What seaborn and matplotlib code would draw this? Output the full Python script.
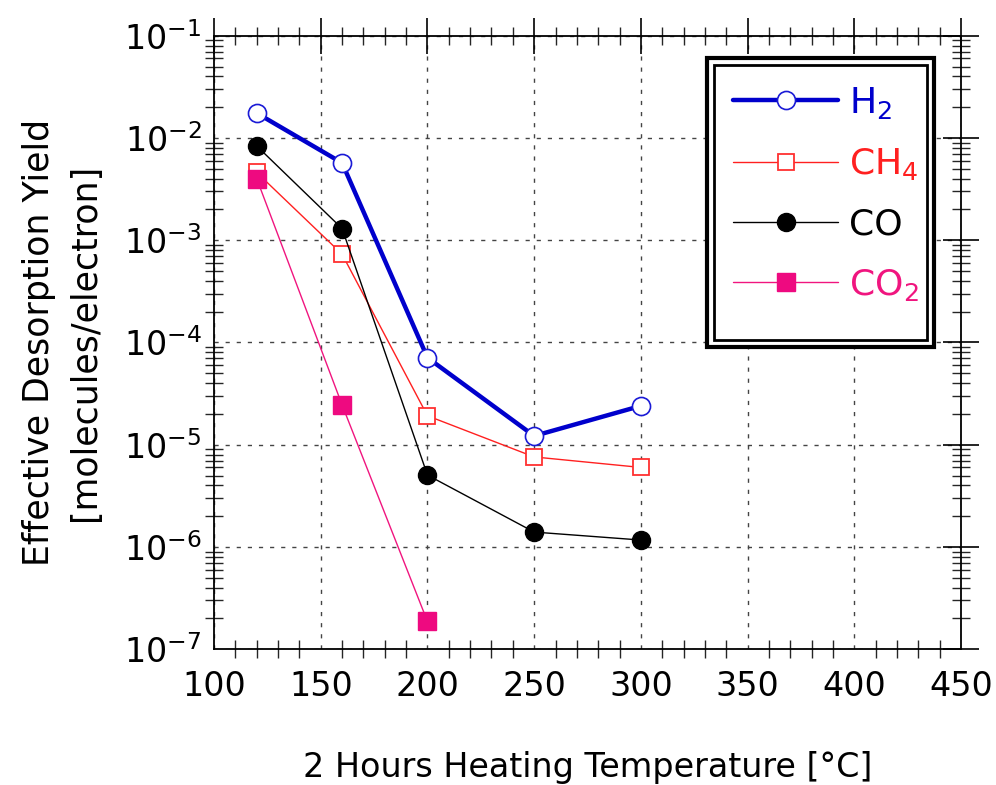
import matplotlib
matplotlib.use("Agg")
import matplotlib.pyplot as plt
from matplotlib.patches import Rectangle
from matplotlib.lines import Line2D
from matplotlib.ticker import LogLocator, MultipleLocator, NullFormatter
import numpy as np
import pandas as pd
import seaborn as sns

# Heating temperature [°C] and effective desorption yields [molecules/electron]
temps = [120, 160, 200, 250, 300]
h2 = [1.75e-2, 5.7e-3, 7.1e-5, 1.22e-5, 2.4e-5]
ch4 = [4.6e-3, 7.3e-4, 1.92e-5, 7.6e-6, 6.0e-6]
co = [8.35e-3, 1.3e-3, 5.05e-6, 1.4e-6, 1.17e-6]
co2_temps = [120, 160, 200]
co2 = [4.0e-3, 2.45e-5, 1.87e-7]

gases = ["H2", "CH4", "CO", "CO2"]
labels = [r"H$_{2}$", r"CH$_{4}$", "CO", r"CO$_{2}$"]
x_ticks = [100, 150, 200, 250, 300, 350, 400, 450]

sns.set_style("white")
plt.rcParams["font.family"] = ["DejaVu Sans"]
plt.rcParams["mathtext.default"] = "regular"
plt.rcParams["text.color"] = "black"
plt.rcParams["axes.labelcolor"] = "black"

fig = plt.figure(figsize=(9.96, 7.85), dpi=100)
ax = fig.add_axes([0.2149, 0.1729, 0.7500, 0.7816])

styles = {
    "H2":  dict(color="#0000CC", lw=3.2, marker="o", ms=13, mfc="white", mec="#1a1ad6", mew=1.2),
    "CH4": dict(color="#FF2020", lw=1.0, marker="s", ms=12, mfc="white", mec="#FF3030", mew=1.3),
    "CO":  dict(color="black", lw=1.0, marker="o", ms=13, mfc="black", mec="black", mew=1.0),
    "CO2": dict(color="#F0157F", lw=1.0, marker="s", ms=13, mfc="#EE0A80", mec="#EE0A80", mew=1.0),
}
series = {
    "H2": (temps, h2),
    "CH4": (temps, ch4),
    "CO": (temps, co),
    "CO2": (co2_temps, co2),
}

for z, g in enumerate(gases):
    xs, ys = series[g]
    df = pd.DataFrame({"T": xs, "Y": ys})
    sns.lineplot(data=df, x="T", y="Y", ax=ax, sort=False, zorder=3 + z,
                 clip_on=False, **styles[g])

ax.set_yscale("log")
ax.set_xlim(100, 450)
ax.set_ylim(1e-7, 1e-1)
ax.set_xticks(x_ticks)
ax.xaxis.set_minor_locator(MultipleLocator(10))
ax.yaxis.set_major_locator(LogLocator(base=10, numticks=20))
ax.yaxis.set_minor_locator(LogLocator(base=10, subs=np.arange(2, 10), numticks=20))
ax.yaxis.set_minor_formatter(NullFormatter())

for s in ax.spines.values():
    s.set_color("black")
    s.set_linewidth(1.3)

ax.tick_params(which="major", direction="inout", length=26, width=1.2,
               top=True, right=True, labelsize=24, pad=-4, colors="black")
ax.tick_params(which="minor", direction="inout", length=13, width=1.0,
               top=True, right=True, left=True, bottom=True)
ax.tick_params(axis="x", which="major", pad=2)

ax.grid(True, which="major", linestyle=(0, (3, 5)), color="#444444", linewidth=1.0)
ax.set_axisbelow(True)

ax.set_xlabel("2 Hours Heating Temperature [°C]", fontsize=24)
ax.set_ylabel("Effective Desorption Yield\n[molecules/electron]", fontsize=25,
              linespacing=1.45)
ax.xaxis.set_label_coords(0.5, -0.165)
ax.yaxis.set_label_coords(-0.150, 0.5)

# Legend with a double frame
x0, x1 = 0.660, 0.964
y0, y1 = 0.493, 0.964
ax.add_patch(Rectangle((x0, y0), x1 - x0, y1 - y0, transform=ax.transAxes,
                       facecolor="white", edgecolor="black", lw=3.0, zorder=10))
dx, dy = 0.009, 0.011
ax.add_patch(Rectangle((x0 + dx, y0 + dy), x1 - x0 - 2 * dx, y1 - y0 - 2 * dy,
                       transform=ax.transAxes, facecolor="none", edgecolor="black",
                       lw=2.0, zorder=11))

handles = []
for g in gases:
    st = styles[g]
    handles.append(Line2D([], [], color=st["color"], lw=st["lw"], marker=st["marker"],
                          ms=st["ms"], mfc=st["mfc"], mec=st["mec"], mew=st["mew"]))
leg = ax.legend(handles, labels, loc="center", bbox_to_anchor=(0.819, 0.742),
                frameon=False, fontsize=26, handlelength=2.9, handletextpad=0.3,
                labelspacing=0.7, labelcolor=[styles[g]["color"] for g in gases])
leg.set_zorder(12)

fig.savefig("out.png", dpi=100)
